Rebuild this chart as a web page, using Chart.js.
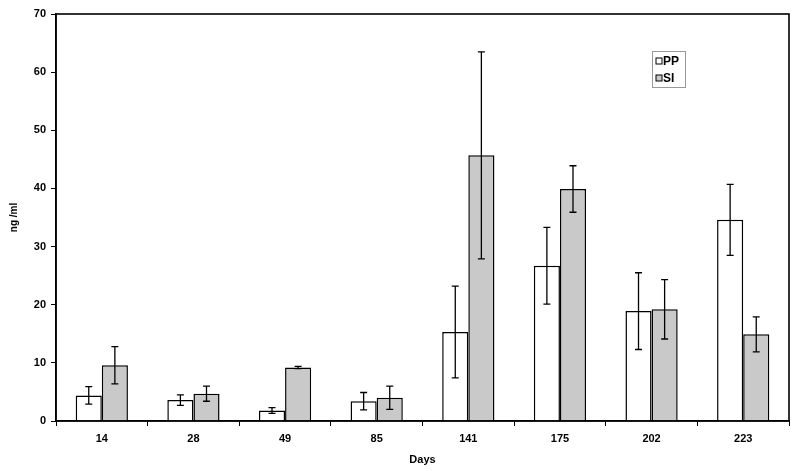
<!DOCTYPE html>
<html>
<head>
<meta charset="utf-8">
<script src="https://cdn.jsdelivr.net/npm/chart.js@4.4.1/dist/chart.umd.min.js"></script>
<style>
  html, body { margin: 0; padding: 0; background: #fff; }
  #wrap { width: 800px; height: 471px; }
</style>
</head>
<body>
<div id="wrap"><canvas id="chart" width="800" height="471"></canvas></div>
<script>
// Data
const days = ['14', '28', '49', '85', '141', '175', '202', '223'];
const ppMean = [4.4, 3.6, 1.8, 3.4, 15.3, 26.7, 18.9, 34.6];
const ppErr  = [1.5, 0.9, 0.5, 1.5, 7.9, 6.6, 6.6, 6.1];
const siMean = [9.6, 4.7, 9.2, 4.0, 45.7, 39.9, 19.2, 14.9];
const siErr  = [3.2, 1.3, 0.2, 2.0, 17.8, 4.0, 5.1, 3.0];
const yTicks = [0, 10, 20, 30, 40, 50, 60, 70];

const font = 'Liberation Sans, Arial, sans-serif';

// Draws the error bars, the frame and the boxed legend
const extras = {
    id: 'extras',
    afterDatasetsDraw(chart) {
        const ctx = chart.ctx;
        const y = chart.scales.y;
        const errs = [ppErr, siErr];
        ctx.save();
        ctx.strokeStyle = '#000';
        ctx.lineWidth = 1.3;
        chart.data.datasets.forEach((ds, i) => {
            chart.getDatasetMeta(i).data.forEach((bar, j) => {
                const top = y.getPixelForValue(ds.data[j] + errs[i][j]);
                const bot = y.getPixelForValue(ds.data[j] - errs[i][j]);
                const cx = bar.x;
                ctx.beginPath();
                ctx.moveTo(cx, top); ctx.lineTo(cx, bot);
                ctx.moveTo(cx - 3.5, top); ctx.lineTo(cx + 3.5, top);
                ctx.moveTo(cx - 3.5, bot); ctx.lineTo(cx + 3.5, bot);
                ctx.stroke();
            });
        });
        ctx.restore();
    },
    afterDraw(chart) {
        const ctx = chart.ctx;
        const a = chart.chartArea;
        ctx.save();
        ctx.strokeStyle = '#000';
        ctx.lineWidth = 1.6;
        ctx.strokeRect(a.left, a.top, a.right - a.left, a.bottom - a.top);

        // legend box
        const lx = 652, ly = 51, lw = 33, lh = 36;
        ctx.strokeStyle = '#999';
        ctx.lineWidth = 1;
        ctx.strokeRect(lx + 0.5, ly + 0.5, lw, lh);
        ctx.font = 'bold 12px ' + font;
        ctx.textBaseline = 'middle';
        chart.data.datasets.forEach((ds, i) => {
            const ry = ly + 10 + i * 17;
            ctx.fillStyle = ds.backgroundColor;
            ctx.fillRect(lx + 4, ry - 3, 6, 6);
            ctx.strokeStyle = '#000';
            ctx.strokeRect(lx + 4, ry - 3, 6, 6);
            ctx.fillStyle = '#000';
            ctx.fillText(ds.label, lx + 11, ry + 0.5);
        });
        ctx.restore();
    }
};

new Chart(document.getElementById('chart'), {
    type: 'bar',
    data: {
        labels: days,
        datasets: [
            { label: 'PP', data: ppMean, backgroundColor: '#ffffff', borderColor: '#000', borderWidth: 1.5 },
            { label: 'SI', data: siMean, backgroundColor: '#c9c9c9', borderColor: '#000', borderWidth: 1.5 }
        ]
    },
    options: {
        responsive: false,
        animation: false,
        layout: { padding: { top: 14, right: 11, left: 0, bottom: 0 } },
        datasets: { bar: { categoryPercentage: 0.57, barPercentage: 1.0 } },
        plugins: { legend: { display: false }, tooltip: { enabled: false } },
        scales: {
            x: {
                offset: true,
                grid: { offset: true, drawOnChartArea: false, drawTicks: true, tickLength: 5, color: '#000' },
                border: { color: '#000', width: 1.6 },
                ticks: { color: '#000', font: { family: font, size: 11, weight: 'bold' }, padding: 6 },
                title: { display: true, text: 'Days', color: '#000', font: { family: font, size: 11, weight: 'bold' }, padding: { top: 8 } },
                afterFit: s => { s.height = 50; }
            },
            y: {
                min: 0, max: 70,
                afterBuildTicks: s => { s.ticks = yTicks.map(v => ({ value: v })); },
                grid: { drawOnChartArea: false, drawTicks: true, tickLength: 5, color: '#000' },
                border: { color: '#000', width: 1.6 },
                ticks: { color: '#000', font: { family: font, size: 11, weight: 'bold' }, padding: 5 },
                title: { display: true, text: 'ng /ml', color: '#000', font: { family: font, size: 10, weight: 'bold' }, padding: { top: 8, bottom: 10 } },
                afterFit: s => { s.width = 56; }
            }
        }
    },
    plugins: [extras]
});
</script>
</body>
</html>
